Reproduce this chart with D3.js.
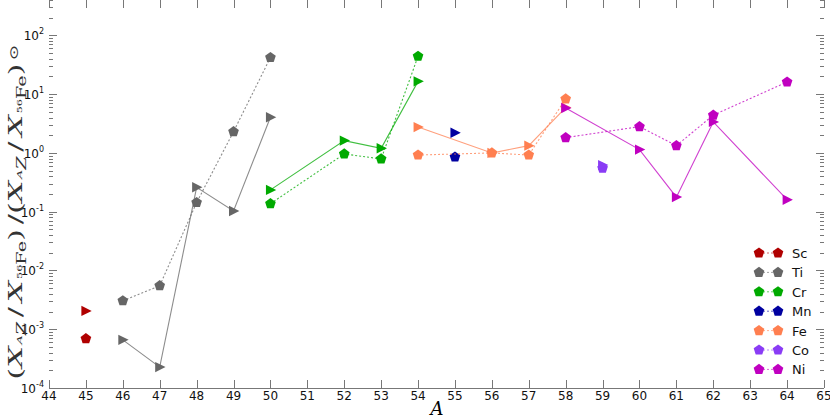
<!DOCTYPE html>
<html>
<meta charset="utf-8">
<head>
<style>
  body { margin: 0; background: #fff; }
  text { font-family: "DejaVu Sans", sans-serif; }
</style>
</head>
<body>
<script src="https://d3js.org/d3.v7.min.js"></script>
<script>

// mass numbers and abundance ratios, pentagons (dotted) and triangles (solid)
var scA   = [45],              scPent = [6.9e-4],             scTri = [2.05e-3];
var tiA   = [46, 47, 48, 49, 50];
var tiPent = [3.05e-3, 5.5e-3, 0.143, 2.3, 42];
var tiTri  = [6.6e-4, 2.27e-4, 0.26, 0.103, 4.05];
var crA   = [50, 52, 53, 54];
var crPent = [0.137, 0.96, 0.79, 44];
var crTri  = [0.235, 1.62, 1.2, 16.5];
var mnA   = [55],              mnPent = [0.85],               mnTri = [2.2];
var feA   = [54, 56, 57, 58];
var fePent = [0.92, 1.0, 0.92, 8.3];
var feTri  = [2.75, 1.0, 1.33, 5.9];
var coA   = [59],              coPent = [0.55],               coTri = [0.62];
var niA   = [58, 60, 61, 62, 64];
var niPent = [1.82, 2.8, 1.33, 4.4, 16.1];
var niTri  = [5.8, 1.14, 0.177, 3.37, 0.16];

var elements = ["Sc", "Ti", "Cr", "Mn", "Fe", "Co", "Ni"];
var colors   = ["#b00000", "#666666", "#00aa00", "#0000a0", "#ff7f50", "#8a3cf5", "#c000c0"];
var xTicks = d3.range(44, 66);
var yTicks = [1e-4, 1e-3, 1e-2, 1e-1, 1, 10, 100];
var yExp   = ["-4", "-3", "-2", "-1", "0", "1", "2"];

var series = [
  {A: scA, p: scPent, t: scTri},
  {A: tiA, p: tiPent, t: tiTri},
  {A: crA, p: crPent, t: crTri},
  {A: mnA, p: mnPent, t: mnTri},
  {A: feA, p: fePent, t: feTri},
  {A: coA, p: coPent, t: coTri},
  {A: niA, p: niPent, t: niTri}
];

var W = 830, H = 418;
var pl = 49, pr = 824, pt = 0, pb = 388;

var x = d3.scaleLinear().domain([44, 65]).range([pl, pr]);
var y = d3.scaleLog().domain([1e-4, 400]).range([pb, pt]);

var svg = d3.select("body").append("svg")
    .attr("width", W)
    .attr("height", H);

// pentagon and right-pointing triangle markers
function pentagon(r) {
  var pts = d3.range(5).map(function(i) {
    var a = -Math.PI / 2 + i * 2 * Math.PI / 5;
    return [r * Math.cos(a), r * Math.sin(a)];
  });
  return "M" + pts.join("L") + "Z";
}
var triPath = "M-4.5,-5.2L5.8,0L-4.5,5.2Z";
var pentPath = pentagon(5.6);

// axes ticks
var axisG = svg.append("g").attr("stroke", "#777").attr("stroke-width", 1);
axisG.append("line")
    .attr("x1", pl).attr("x2", pr)
    .attr("y1", pb + 0.5).attr("y2", pb + 0.5);

xTicks.forEach(function(v) {
  var px = Math.round(x(v)) + 0.5;
  axisG.append("line").attr("x1", px).attr("x2", px).attr("y1", pb).attr("y2", pb - 8);
  axisG.append("line").attr("x1", px).attr("x2", px).attr("y1", pt).attr("y2", pt + 8);
  svg.append("text")
      .attr("x", x(v)).attr("y", pb + 12)
      .attr("text-anchor", "middle")
      .attr("font-size", 12)
      .attr("fill", "#111")
      .text(v);
});

// log ticks, major and minor
d3.range(-4, 3).forEach(function(e) {
  d3.range(1, 10).forEach(function(m) {
    var v = m * Math.pow(10, e);
    if (v > 400) return;
    var py = Math.round(y(v)) + 0.5;
    var len = m === 1 ? 8 : 4;
    axisG.append("line").attr("x1", pl).attr("x2", pl + len).attr("y1", py).attr("y2", py);
    axisG.append("line").attr("x1", pr).attr("x2", pr - len).attr("y1", py).attr("y2", py);
  });
});

yTicks.forEach(function(v, i) {
  var t = svg.append("text")
      .attr("x", 44).attr("y", y(v) + 5)
      .attr("text-anchor", "end")
      .attr("font-size", 12)
      .attr("fill", "#111");
  t.append("tspan").text("10");
  t.append("tspan").attr("font-size", 8).attr("dy", -6).text(yExp[i]);
});

// lines
var line = d3.line()
    .x(function(d) { return x(d[0]); })
    .y(function(d) { return y(d[1]); });

series.forEach(function(s, i) {
  var pts = s.A.map(function(a, j) { return [a, s.p[j]]; });
  var tri = s.A.map(function(a, j) { return [a, s.t[j]]; });
  if (s.A.length > 1) {
    svg.append("path").datum(pts)
        .attr("d", line)
        .attr("fill", "none")
        .attr("stroke", colors[i])
        .attr("stroke-opacity", 0.75)
        .attr("stroke-width", 1.1)
        .attr("stroke-dasharray", "2,2");
    svg.append("path").datum(tri)
        .attr("d", line)
        .attr("fill", "none")
        .attr("stroke", colors[i])
        .attr("stroke-opacity", 0.75)
        .attr("stroke-width", 1.1);
  }
  svg.selectAll(null).data(pts).enter().append("path")
      .attr("d", pentPath)
      .attr("transform", function(d) { return "translate(" + x(d[0]) + "," + y(d[1]) + ")"; })
      .attr("fill", colors[i]);
  svg.selectAll(null).data(tri).enter().append("path")
      .attr("d", triPath)
      .attr("transform", function(d) { return "translate(" + x(d[0]) + "," + y(d[1]) + ")"; })
      .attr("fill", colors[i]);
});

// legend
var legend = svg.append("g");
elements.forEach(function(el, i) {
  var ly = 253 + i * 19.4;
  legend.append("line")
      .attr("x1", 759).attr("x2", 778).attr("y1", ly).attr("y2", ly)
      .attr("stroke", colors[i]).attr("stroke-opacity", 0.6)
      .attr("stroke-dasharray", "2,2");
  [759, 778].forEach(function(lx) {
    legend.append("path")
        .attr("d", pentPath)
        .attr("transform", "translate(" + lx + "," + ly + ")")
        .attr("fill", colors[i]);
  });
  legend.append("text")
      .attr("x", 792).attr("y", ly + 5)
      .attr("font-size", 13)
      .attr("fill", "#111")
      .text(el);
});

// axis labels, serif math style
var serif = "'DejaVu Serif', 'Liberation Serif', serif";
svg.append("text")
    .attr("x", 437).attr("y", 415)
    .attr("text-anchor", "middle")
    .style("font-family", serif)
    .attr("font-style", "italic")
    .attr("font-size", 18)
    .text("A");

var yl = svg.append("text")
    .attr("transform", "translate(22,212) rotate(-90) scale(1.6,1)")
    .attr("text-anchor", "middle")
    .style("font-family", serif)
    .attr("font-size", 19)
    .attr("fill", "#333");

function frac(t) {
  t.append("tspan").text("(");
  t.append("tspan").attr("font-style", "italic").text("X");
  t.append("tspan").attr("font-size", 8).attr("font-style", "italic").attr("dy", 0).attr("dx", 1).text("A");
  t.append("tspan").attr("font-size", 12).attr("font-style", "italic").attr("dy", 4).text("Z");
  t.append("tspan").attr("dy", -4).attr("dx", 3).text("/");
  t.append("tspan").attr("font-style", "italic").attr("dx", 3).text("X");
  t.append("tspan").attr("font-size", 7).attr("dy", 0).attr("dx", 1).text("56");
  t.append("tspan").attr("font-size", 12).attr("dy", 4).text("Fe");
  t.append("tspan").attr("dy", -4).text(")");
}
frac(yl);
yl.append("tspan").attr("dx", 3).text("/");
frac(yl);
yl.append("tspan").attr("font-size", 12).attr("dy", -4).attr("dx", 2).text("\u2299");

</script>
</body>
</html>
